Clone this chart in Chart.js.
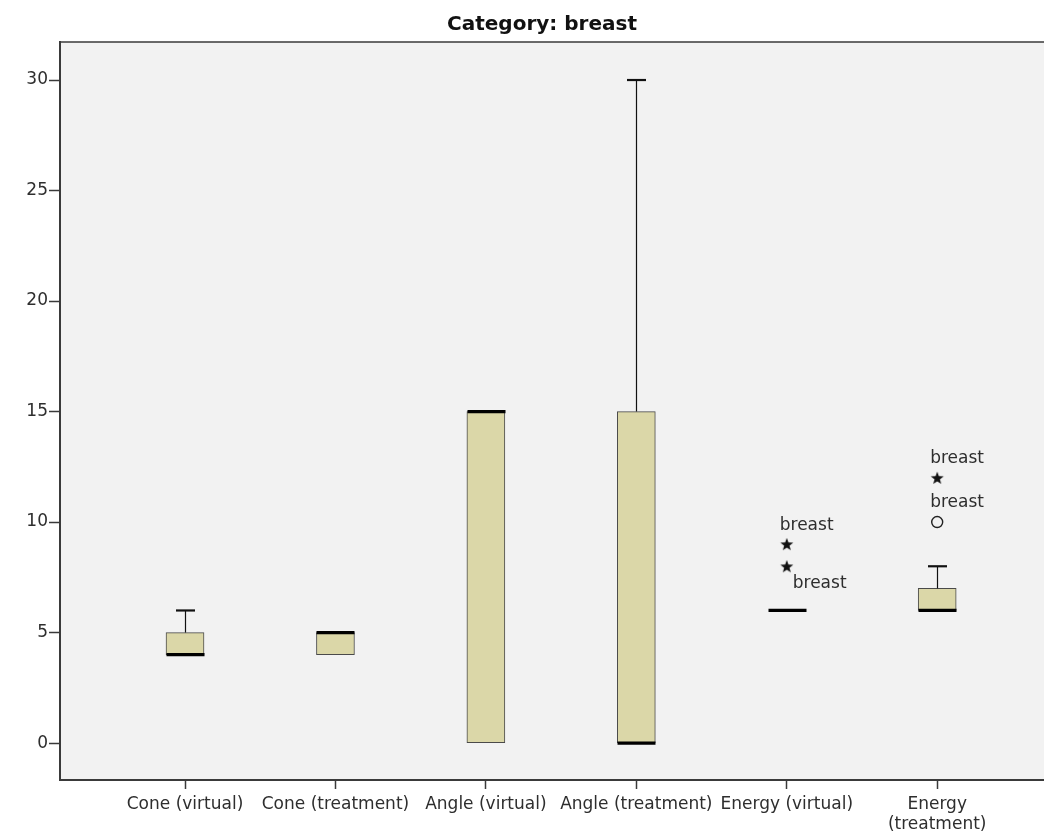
<!DOCTYPE html>
<html>
<head>
<meta charset="utf-8">
<title>Category: breast</title>
<script src="https://cdn.jsdelivr.net/npm/chart.js@4.4.1/dist/chart.umd.min.js"></script>
<style>
  html, body { margin: 0; padding: 0; background: #ffffff; overflow: hidden; }
  #wrap { width: 1044px; height: 832px; }
  #chart { display: block; }
</style>
</head>
<body>
<div id="wrap"><canvas id="chart" width="1044" height="832"></canvas></div>
<script>
// ---- data ----
const chartTitle = 'Category: breast';
const categories = ['Cone (virtual)', 'Cone (treatment)', 'Angle (virtual)', 'Angle (treatment)', 'Energy (virtual)', ['Energy', '(treatment)']];
const whiskerLow  = [4, 4, 0, 0, 6, 6];
const q1          = [4, 4, 0, 0, 6, 6];
const median      = [4, 5, 15, 0, 6, 6];
const q3          = [5, 5, 15, 15, 6, 7];
const whiskerHigh = [6, 5, 15, 30, 6, 8];
// outliers: category number (1-based), value, kind, case label
const outlierCategory = [5, 5, 6, 6];
const outlierValue    = [9, 8, 12, 10];
const outlierKind     = ['extreme', 'extreme', 'extreme', 'outlier'];
const outlierLabel    = ['breast', 'breast', 'breast', 'breast'];
const yTicks = [0, 5, 10, 15, 20, 25, 30];

// ---- styles ----
const FONT = '"DejaVu Sans", "Open Sans", sans-serif';
const TEXT = '#2e2e2e';
const AXIS = '#3a3a3a';
const BOX_FILL = '#dbd7a8';
const BOX_EDGE = '#4a4a4a';
const BOX_WIDTH = 38;
const CAP_WIDTH = 19;
// where each case label sits relative to its marker
const labelAnchor = ['above', 'belowRight', 'above', 'above'];

// five-pointed star marker for extreme values
function makeStar() {
  const c = document.createElement('canvas');
  c.width = 16; c.height = 16;
  const g = c.getContext('2d');
  g.fillStyle = '#111';
  g.beginPath();
  for (let i = 0; i < 10; i++) {
    const r = i % 2 === 0 ? 6.8 : 2.8;
    const a = -Math.PI / 2 + i * Math.PI / 5;
    const px = 8 + r * Math.cos(a), py = 8.6 + r * Math.sin(a);
    if (i === 0) g.moveTo(px, py); else g.lineTo(px, py);
  }
  g.closePath();
  g.fill();
  return c;
}
const starImg = makeStar();

// plot background, frame and title
const framePlugin = {
  id: 'frame',
  beforeDraw(chart) {
    const { ctx, chartArea: a } = chart;
    ctx.save();
    ctx.fillStyle = '#f2f2f2';
    ctx.fillRect(a.left, a.top, a.right - a.left, a.bottom - a.top);
    ctx.strokeStyle = AXIS;
    ctx.lineWidth = 1.5;
    ctx.beginPath();
    ctx.moveTo(a.left, a.top);
    ctx.lineTo(a.right, a.top);
    ctx.stroke();
    ctx.fillStyle = '#111';
    ctx.font = 'bold 20px ' + FONT;
    ctx.textAlign = 'center';
    ctx.textBaseline = 'middle';
    ctx.fillText(chartTitle, 542, 25);
    ctx.restore();
  }
};

// whiskers, caps, medians and case labels
const boxPlugin = {
  id: 'boxparts',
  afterDatasetsDraw(chart) {
    const { ctx } = chart;
    const xs = chart.scales.x, ys = chart.scales.y;
    ctx.save();
    categories.forEach((c, i) => {
      const cx = Math.round(xs.getPixelForValue(i + 1)) + 0.5;
      const yHi = ys.getPixelForValue(whiskerHigh[i]);
      const yLo = ys.getPixelForValue(whiskerLow[i]);
      const yQ3 = ys.getPixelForValue(q3[i]);
      const yQ1 = ys.getPixelForValue(q1[i]);
      ctx.strokeStyle = '#111';
      ctx.lineWidth = 1.2;
      if (whiskerHigh[i] > q3[i]) {
        ctx.beginPath(); ctx.moveTo(cx, yQ3); ctx.lineTo(cx, yHi); ctx.stroke();
        ctx.lineWidth = 2.2;
        ctx.beginPath(); ctx.moveTo(cx - CAP_WIDTH / 2, yHi); ctx.lineTo(cx + CAP_WIDTH / 2, yHi); ctx.stroke();
      }
      ctx.lineWidth = 1.2;
      if (whiskerLow[i] < q1[i]) {
        ctx.beginPath(); ctx.moveTo(cx, yQ1); ctx.lineTo(cx, yLo); ctx.stroke();
        ctx.lineWidth = 2.2;
        ctx.beginPath(); ctx.moveTo(cx - CAP_WIDTH / 2, yLo); ctx.lineTo(cx + CAP_WIDTH / 2, yLo); ctx.stroke();
      }
      // median
      const yMed = ys.getPixelForValue(median[i]);
      ctx.strokeStyle = '#000';
      ctx.lineWidth = 3.2;
      ctx.beginPath(); ctx.moveTo(cx - BOX_WIDTH / 2, yMed); ctx.lineTo(cx + BOX_WIDTH / 2, yMed); ctx.stroke();
    });
    // case labels beside outlier markers
    const meta = chart.getDatasetMeta(1);
    ctx.fillStyle = TEXT;
    ctx.font = '17px ' + FONT;
    ctx.textAlign = 'left';
    ctx.textBaseline = 'middle';
    meta.data.forEach((pt, i) => {
      if (labelAnchor[i] === 'belowRight') {
        ctx.fillText(outlierLabel[i], pt.x + 6, pt.y + 17);
      } else {
        ctx.fillText(outlierLabel[i], pt.x - 7, pt.y - 19);
      }
    });
    ctx.restore();
  }
};

new Chart(document.getElementById('chart'), {
  type: 'bar',
  data: {
    datasets: [
      {
        type: 'bar',
        data: categories.map((c, i) => ({ x: i + 1, y: [q1[i], q3[i]] })),
        backgroundColor: BOX_FILL,
        borderColor: BOX_EDGE,
        borderWidth: 1,
        borderSkipped: false,
        barThickness: BOX_WIDTH,
        order: 2
      },
      {
        type: 'scatter',
        data: outlierCategory.map((c, i) => ({ x: c, y: outlierValue[i] })),
        pointStyle: outlierKind.map(k => k === 'extreme' ? starImg : 'circle'),
        pointRadius: 5.5,
        backgroundColor: 'rgba(0,0,0,0)',
        borderColor: '#222',
        borderWidth: 1.4,
        order: 1
      }
    ]
  },
  options: {
    responsive: false,
    animation: false,
    events: [],
    layout: { autoPadding: false, padding: { top: 42, right: 0, left: 0, bottom: 0 } },
    plugins: { legend: { display: false }, tooltip: { enabled: false }, title: { display: false } },
    scales: {
      x: {
        type: 'linear',
        offset: false,
        min: 0.169,
        max: 6.71,
        afterBuildTicks: s => { s.ticks = categories.map((c, i) => ({ value: i + 1 })); },
        afterFit: s => { s.height = 52; s.paddingLeft = 0; s.paddingRight = 0; },
        ticks: {
          autoSkip: false,
          maxRotation: 0,
          minRotation: 0,
          padding: 6,
          color: TEXT,
          font: { family: FONT, size: 17, lineHeight: 1.15 },
          callback: v => categories[v - 1]
        },
        grid: { offset: false, drawOnChartArea: false, drawTicks: true, tickLength: 9, color: AXIS, tickWidth: 1.5 },
        border: { color: AXIS, width: 2 }
      },
      y: {
        min: -1.67,
        max: 31.72,
        afterBuildTicks: s => { s.ticks = yTicks.map(v => ({ value: v })); },
        afterFit: s => { s.width = 60; },
        ticks: {
          padding: 1,
          color: TEXT,
          font: { family: FONT, size: 17 },
          callback: v => String(v)
        },
        grid: { drawOnChartArea: false, drawTicks: true, tickLength: 11, color: AXIS, tickWidth: 1.5 },
        border: { color: AXIS, width: 2 }
      }
    }
  },
  plugins: [framePlugin, boxPlugin]
});
</script>
</body>
</html>
